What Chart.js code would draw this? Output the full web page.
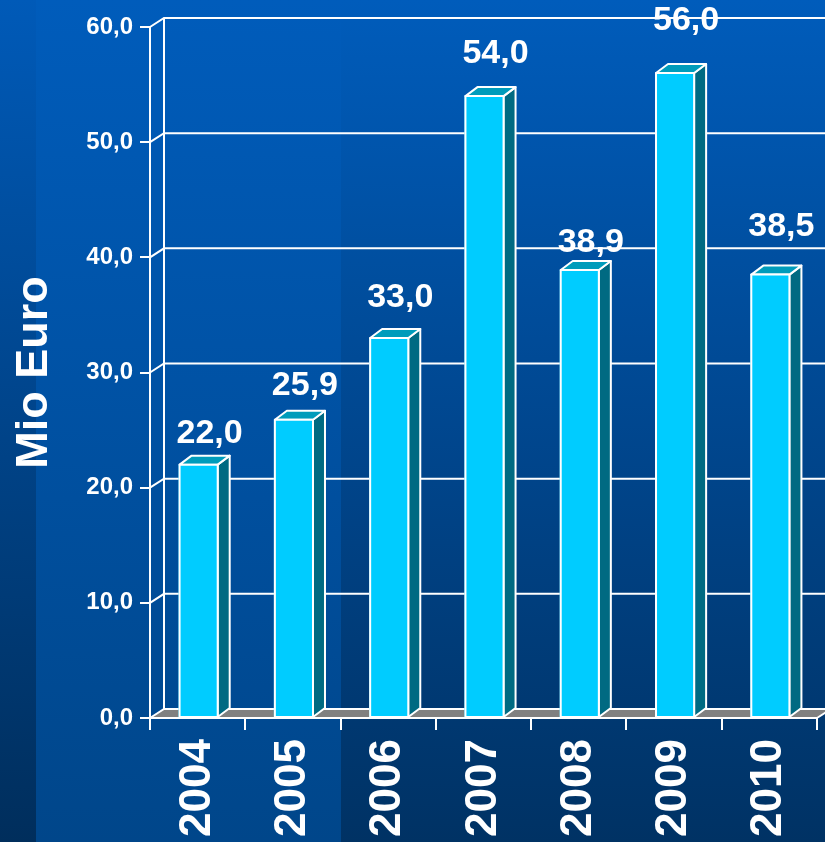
<!DOCTYPE html>
<html>
<head>
<meta charset="utf-8">
<script src="https://cdn.jsdelivr.net/npm/chart.js@4.4.1/dist/chart.umd.min.js"></script>
<style>
html, body { margin: 0; padding: 0; background: #004080; overflow: hidden; }
#wrap { width: 825px; height: 842px; position: relative; }
</style>
</head>
<body>
<div id="wrap"><canvas id="chart"></canvas></div>
<script>
// --- Data ---
const years = ['2004', '2005', '2006', '2007', '2008', '2009', '2010'];
const values = [22.0, 25.9, 33.0, 54.0, 38.9, 56.0, 38.5];
const yTicks = [0, 10, 20, 30, 40, 50, 60];
const axisTitle = 'Mio Euro';

// hand-placed label lift above each bar (px), as in the original slide
const labelLift = [31, 34, 40, 42, 27, 52, 48];

// 3D depth: back wall and bar depth
const WALL_DX = 14, WALL_DY = -9;
const BAR_DX = 12, BAR_DY = -9;

function fmt(v) { return v.toFixed(1).replace('.', ','); }

Chart.defaults.font.family = '"Liberation Sans", Arial, sans-serif';

// Background: blue gradient with three vertical bands
const bgPlugin = {
    id: 'bg',
    beforeDraw(chart) {
        const ctx = chart.ctx, W = chart.width, H = chart.height;
        function band(x0, x1, top, bottom) {
            const g = ctx.createLinearGradient(0, 0, 0, H);
            g.addColorStop(0, top);
            g.addColorStop(1, bottom);
            ctx.fillStyle = g;
            ctx.fillRect(x0, 0, x1 - x0, H);
        }
        ctx.save();
        band(0, 36, '#005ab8', '#002e5c');
        band(36, 341, '#005cbb', '#00468a');
        band(341, W, '#005cbb', '#003264');
        ctx.restore();
    }
};

// Back wall, floor, bar sides and tops, value labels
const box3d = {
    id: 'box3d',
    beforeDatasetsDraw(chart) {
        const ctx = chart.ctx, a = chart.chartArea, ys = chart.scales.y;
        const y0 = ys.getPixelForValue(0);
        const yTop = ys.getPixelForValue(yTicks[yTicks.length - 1]);
        ctx.save();
        // floor
        ctx.beginPath();
        ctx.moveTo(a.left, y0);
        ctx.lineTo(a.right, y0);
        ctx.lineTo(a.right + WALL_DX, y0 + WALL_DY);
        ctx.lineTo(a.left + WALL_DX, y0 + WALL_DY);
        ctx.closePath();
        ctx.fillStyle = '#808080';
        ctx.fill();

        ctx.strokeStyle = '#ffffff';
        ctx.lineWidth = 2;
        // left wall back edge
        ctx.beginPath();
        ctx.moveTo(a.left + WALL_DX, y0 + WALL_DY);
        ctx.lineTo(a.left + WALL_DX, yTop + WALL_DY);
        ctx.stroke();
        // grid lines on side and back wall
        yTicks.forEach(function(v) {
            const py = ys.getPixelForValue(v);
            ctx.beginPath();
            ctx.moveTo(a.left, py);
            ctx.lineTo(a.left + WALL_DX, py + WALL_DY);
            ctx.lineTo(chart.width, py + WALL_DY);
            ctx.stroke();
        });
        // right floor edge
        ctx.beginPath();
        ctx.moveTo(a.right, y0);
        ctx.lineTo(a.right + WALL_DX, y0 + WALL_DY);
        ctx.stroke();
        // front floor edge
        ctx.beginPath();
        ctx.moveTo(a.left, y0);
        ctx.lineTo(a.right, y0);
        ctx.stroke();
        ctx.restore();
    },
    afterDatasetsDraw(chart) {
        const ctx = chart.ctx;
        const meta = chart.getDatasetMeta(0);
        ctx.save();
        ctx.strokeStyle = '#ffffff';
        ctx.lineWidth = 2;
        ctx.lineJoin = 'round';
        meta.data.forEach(function(bar, i) {
            const p = bar.getProps(['x', 'y', 'base', 'width'], true);
            const l = p.x - p.width / 2 + 1, r = p.x + p.width / 2 + 1;
            // side
            ctx.beginPath();
            ctx.moveTo(r, p.y);
            ctx.lineTo(r + BAR_DX, p.y + BAR_DY);
            ctx.lineTo(r + BAR_DX, p.base + BAR_DY);
            ctx.lineTo(r, p.base);
            ctx.closePath();
            ctx.fillStyle = '#006a82';
            ctx.fill();
            ctx.stroke();
            // top
            ctx.beginPath();
            ctx.moveTo(l, p.y);
            ctx.lineTo(l + BAR_DX, p.y + BAR_DY);
            ctx.lineTo(r + BAR_DX, p.y + BAR_DY);
            ctx.lineTo(r, p.y);
            ctx.closePath();
            ctx.fillStyle = '#009cbb';
            ctx.fill();
            ctx.stroke();
            // front face and outline
            ctx.fillStyle = '#00ccff';
            ctx.fillRect(l, p.y, r - l, p.base - p.y);
            ctx.strokeRect(l, p.y, r - l, p.base - p.y);

            // value label
            ctx.fillStyle = '#ffffff';
            ctx.font = 'bold 34px "Liberation Sans", Arial, sans-serif';
            ctx.textAlign = 'center';
            ctx.textBaseline = 'middle';
            ctx.fillText(fmt(values[i]), p.x + 12, p.y - labelLift[i]);
        });
        ctx.restore();
    }
};

new Chart(document.getElementById('chart'), {
    type: 'bar',
    data: {
        labels: years,
        datasets: [{
            data: values,
            backgroundColor: '#00ccff',
            borderWidth: 0,
            barPercentage: 0.4,
            categoryPercentage: 1.0
        }]
    },
    options: {
        responsive: true,
        maintainAspectRatio: false,
        animation: false,
        layout: { padding: { top: 27, right: 8, left: 0, bottom: 0 } },
        plugins: {
            legend: { display: false },
            tooltip: { enabled: false }
        },
        scales: {
            x: {
                offset: true,
                grid: { display: true, drawOnChartArea: false, color: '#ffffff', lineWidth: 2, tickLength: 12, offset: true },
                border: { display: true, color: '#ffffff', width: 2 },
                ticks: {
                    color: '#ffffff',
                    font: { size: 44, weight: 'bold' },
                    minRotation: 90, maxRotation: 90,
                    padding: 9,
                    autoSkip: false
                },
                afterFit(s) { s.height = 124; s.paddingLeft = 0; s.paddingRight = 0; }
            },
            y: {
                min: 0, max: 60,
                grid: { drawOnChartArea: false, color: '#ffffff', lineWidth: 2, tickLength: 10 },
                border: { display: true, color: '#ffffff', width: 2 },
                ticks: {
                    color: '#ffffff',
                    font: { size: 24, weight: 'bold' },
                    padding: 7,
                    callback: function(v) { return fmt(v); }
                },
                afterBuildTicks(s) { s.ticks = yTicks.map(v => ({ value: v })); },
                title: {
                    display: true,
                    text: axisTitle,
                    color: '#ffffff',
                    font: { size: 45, weight: 'bold' },
                    padding: { top: 8, bottom: 0 }
                },
                afterFit(s) { s.width = 150; s.paddingTop = 0; s.paddingBottom = 0; }
            }
        }
    },
    plugins: [bgPlugin, box3d]
});
</script>
</body>
</html>
